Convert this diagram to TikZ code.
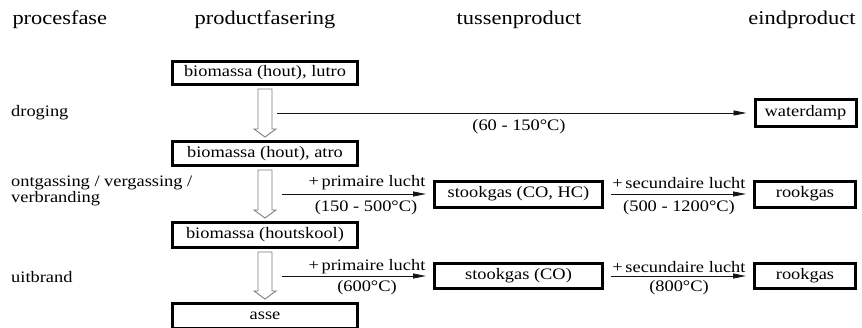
\documentclass[tikz,border=0pt]{standalone}
\usepackage{fontspec}
\setmainfont[FakeStretch=1.15]{Liberation Serif}
\usepackage{xcolor}
\usepackage{tikz}
\usetikzlibrary{calc,arrows.meta,positioning}
\definecolor{arrowGray}{RGB}{125,125,125}
\definecolor{lineBlack}{RGB}{20,20,20}

% hollow downward arrow from one box to the next
\newcommand{\hollowdown}[2]{%
  \draw[hollowarr] ($(#1.south)+(-7,3)$) -- ($(#2.north)+(-7,-11)$) -- ++(-4,0)
    -- ($(#2.north)+(0,-3)$) -- ($(#2.north)+(11,-11)$) -- ++(-4,0)
    -- ($(#1.south)+(7,3)$) -- cycle;}

\begin{document}
\begin{tikzpicture}[x=1pt,y=-1pt,
    fbox/.style={draw, line width=3pt, minimum width=185pt, minimum height=23pt,
      inner sep=0pt, font=\fontsize{16}{18}\selectfont},
    tbox/.style={fbox, minimum width=168pt},
    ebox/.style={fbox, minimum width=101pt},
    head/.style={font=\fontsize{19.5}{22}\selectfont},
    lbl/.style={font=\fontsize{16}{12}\selectfont, inner sep=0pt},
    hollowarr/.style={draw=arrowGray, line width=0.9pt, fill=white},
    flow/.style={draw=lineBlack, line width=0.8pt, -{Triangle[length=13pt,width=5pt]},
      shorten <=7pt, shorten >=7pt}]
    \useasboundingbox (0,0) rectangle (862,327);
    \clip (0,0) rectangle (862,327);

    % column headers
    \node[head, anchor=west] (hfase) at (9,20) {procesfase};
    \node[head] (hprod) at (265,20) {productfasering};
    \node[head] (htus) at (519,20) {tussenproduct};
    \node[head] (heind) at (802,20) {eindproduct};

    % process phases
    \node[lbl, anchor=west] (fdroog) at (11,113) {droging};
    \node[lbl, anchor=west, align=left] (fgas) at (11,191) {ontgassing / vergassing /\\verbranding};
    \node[lbl, anchor=west] (fuit) at (11,277) {uitbrand};

    % product chain
    \node[fbox] (lutro) at (265,73) {biomassa (hout), lutro};
    \node[fbox, minimum height=24pt] (atro) at (265,153.5) {biomassa (hout), atro};
    \node[fbox, minimum height=25pt] (kool) at (265,235) {biomassa (houtskool)};
    \node[fbox, minimum height=25pt] (asse) at (265,316) {asse};

    \hollowdown{lutro}{atro}
    \hollowdown{atro}{kool}
    \hollowdown{kool}{asse}

    % intermediate and end products
    \node[ebox, minimum height=27pt] (damp) at (805.5,113) {waterdamp};
    \node[tbox, minimum height=26pt] (stookA) at (518.5,194) {stookgas (CO, HC)};
    \node[ebox, minimum height=26pt] (rookA) at (805,194) {rookgas};
    \node[tbox, minimum height=25pt] (stookB) at (518.5,276) {stookgas (CO)};
    \node[ebox, minimum height=25pt] (rookB) at (805,276) {rookgas};

    \coordinate (dstart) at (270,113);
    \coordinate (astart) at (275,194);
    \coordinate (bstart) at (275,276);

    \draw[flow] (dstart) -- (damp);
    \draw[flow] (astart) -- (stookA);
    \draw[flow] (stookA) -- (rookA);
    \draw[flow] (bstart) -- (stookB);
    \draw[flow] (stookB) -- (rookB);

    % conditions on the connectors
    \node[lbl] (tdroog) at (519,127) {(60 - 150°C)};
    \node[lbl] (luchtA) at (367,183) {+\,primaire lucht};
    \node[lbl] (tempA) at (366,208) {(150 - 500°C)};
    \node[lbl] (secA) at (679,183) {+\,secundaire lucht};
    \node[lbl] (tsecA) at (679,208) {(500 - 1200°C)};
    \node[lbl] (luchtB) at (367,267) {+\,primaire lucht};
    \node[lbl] (tempB) at (367,288) {(600°C)};
    \node[lbl] (secB) at (679,267) {+\,secundaire lucht};
    \node[lbl] (tsecB) at (679,288) {(800°C)};
\end{tikzpicture}
\end{document}
